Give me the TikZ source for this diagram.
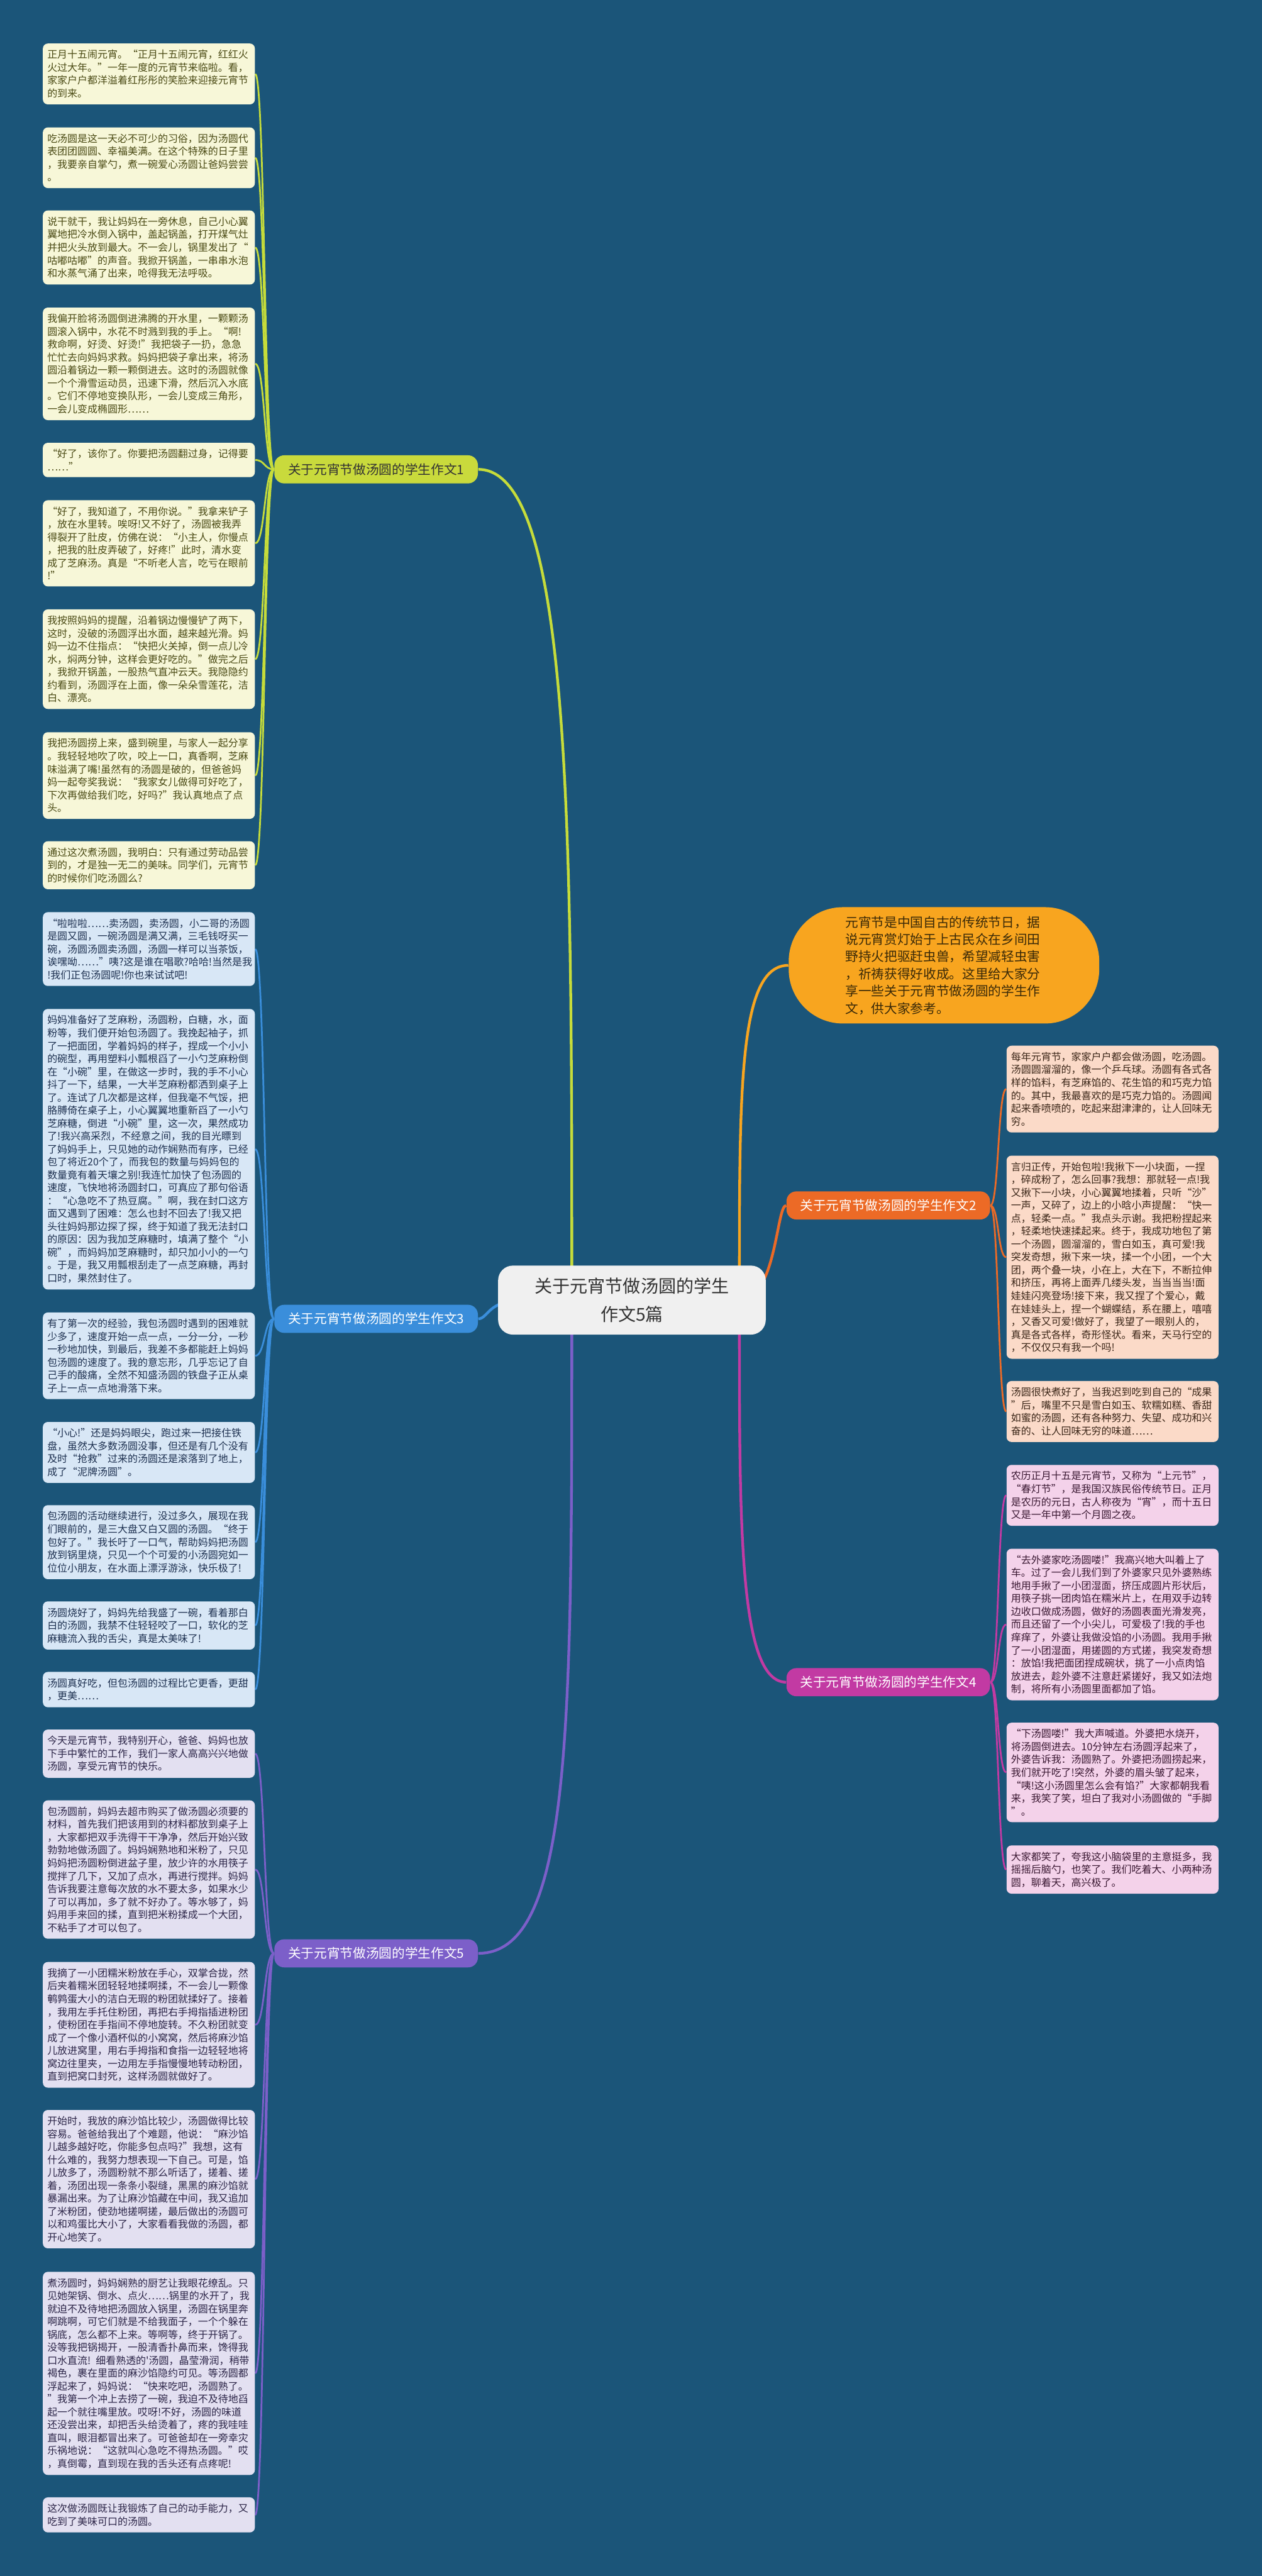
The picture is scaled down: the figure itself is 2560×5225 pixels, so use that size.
\documentclass[tikz,border=0pt]{standalone}
\usepackage{fontspec}
\newfontfamily\cjk{Noto Sans CJK SC}
\usetikzlibrary{calc}
\definecolor{bgc}{HTML}{1B5579}
\definecolor{yfill}{HTML}{F7F7D8}
\definecolor{ytext}{HTML}{4A4A14}
\definecolor{yline}{HTML}{C6DC3A}
\definecolor{ylab}{HTML}{C9DA3C}
\definecolor{bfill}{HTML}{D8E7F6}
\definecolor{btext}{HTML}{1D3050}
\definecolor{bline}{HTML}{3A8EDB}
\definecolor{pfill}{HTML}{E3E0F1}
\definecolor{ptext}{HTML}{2C2548}
\definecolor{pline}{HTML}{7C5FC9}
\definecolor{ofill}{HTML}{FBDAC8}
\definecolor{otext}{HTML}{3B2618}
\definecolor{oline}{HTML}{EC6A26}
\definecolor{mfill}{HTML}{F4D2EA}
\definecolor{mtext}{HTML}{3A1832}
\definecolor{mline}{HTML}{C23AA3}
\definecolor{ifill}{HTML}{F8A51F}
\definecolor{itext}{HTML}{3B2A08}
\definecolor{rfill}{HTML}{F0F0F0}
\pgfdeclarelayer{back}\pgfdeclarelayer{edges}\pgfsetlayers{back,edges,main}
\tikzset{
 leafbase/.style={rounded corners=1mm, text width=41.2mm, inner xsep=0.9mm, inner ysep=1.3mm, align=left, font=\cjk\fontsize{5.8pt}{7.45pt}\selectfont},
 leafY/.style={leafbase, fill=yfill, text=ytext},
 leafB/.style={leafbase, fill=bfill, text=btext},
 leafP/.style={leafbase, fill=pfill, text=ptext},
 leafO/.style={leafbase, fill=ofill, text=otext},
 leafM/.style={leafbase, fill=mfill, text=mtext},
 lab/.style={rounded corners=2mm, minimum width=41.3mm, minimum height=5.7mm, inner sep=0.5mm, font=\cjk\fontsize{7.5pt}{9pt}\selectfont},
 rootst/.style={fill=rfill, text=black!80, rounded corners=3mm, minimum width=54.3mm, minimum height=14mm, align=center, font=\cjk\fontsize{10.2pt}{16.2pt}\selectfont},
 introst/.style={fill=ifill, text=itext, rounded corners=11mm, text width=40mm, inner xsep=11.5mm, inner ysep=1.8mm, align=left, font=\cjk\fontsize{7.5pt}{9.95pt}\selectfont},
 thinline/.style={line width=0.35mm},
 thickline/.style={line width=0.55mm}
}
\newcommand\myconL[3]{\draw[thinline,#1] (#2.west) .. controls ($(#2.west)+(-20,0)$) and ($(#3.east)+(20,0)$) .. (#3.east);}
\newcommand\myconR[3]{\draw[thinline,#1] (#2.east) .. controls ($(#2.east)+(17,0)$) and ($(#3.west)+(-17,0)$) .. (#3.west);}
\begin{document}
\begin{tikzpicture}[x=0.1mm,y=-0.1mm]
\begin{pgfonlayer}{back}
\fill[bgc] (0,0) rectangle (2560,5225);
\end{pgfonlayer}
\useasboundingbox (0,0) rectangle (2560,5225);

% root, intro, labels
\node[rootst] (root) at (1282,2637) {关于元宵节做汤圆的学生\\作文5篇};
\node[introst] (intro) at (1915,1958) {元宵节是中国自古的传统节日，据\\说元宵赏灯始于上古民众在乡间田\\野持火把驱赶虫兽，希望减轻虫害\\，祈祷获得好收成。这里给大家分\\享一些关于元宵节做汤圆的学生作\\文，供大家参考。};
\node[lab, fill=ylab, text=black!80] (B1) at (763,952) {关于元宵节做汤圆的学生作文1};
\node[lab, fill=bline, text=white] (B3) at (763,2675) {关于元宵节做汤圆的学生作文3};
\node[lab, fill=pline, text=white] (B5) at (763,3962) {关于元宵节做汤圆的学生作文5};
\node[lab, fill=oline, text=white] (B2) at (1802,2445) {关于元宵节做汤圆的学生作文2};
\node[lab, fill=mline, text=white] (B4) at (1802,3412) {关于元宵节做汤圆的学生作文4};

% branch 1
\node[leafY] (a1) at (302,150) {正月十五闹元宵。“正月十五闹元宵，红红火\\火过大年。”一年一度的元宵节来临啦。看，\\家家户户都洋溢着红彤彤的笑脸来迎接元宵节\\的到来。};
\node[leafY] (a2) at (302,320) {吃汤圆是这一天必不可少的习俗，因为汤圆代\\表团团圆圆、幸福美满。在这个特殊的日子里\\，我要亲自掌勺，煮一碗爱心汤圆让爸妈尝尝\\。};
\node[leafY] (a3) at (302,502) {说干就干，我让妈妈在一旁休息，自己小心翼\\翼地把冷水倒入锅中，盖起锅盖，打开煤气灶\\并把火头放到最大。不一会儿，锅里发出了“\\咕嘟咕嘟”的声音。我掀开锅盖，一串串水泡\\和水蒸气涌了出来，呛得我无法呼吸。};
\node[leafY] (a4) at (302,738) {我偏开脸将汤圆倒进沸腾的开水里，一颗颗汤\\圆滚入锅中，水花不时溅到我的手上。“啊!\\救命啊，好烫、好烫!”我把袋子一扔，急急\\忙忙去向妈妈求救。妈妈把袋子拿出来，将汤\\圆沿着锅边一颗一颗倒进去。这时的汤圆就像\\一个个滑雪运动员，迅速下滑，然后沉入水底\\。它们不停地变换队形，一会儿变成三角形，\\一会儿变成椭圆形……};
\node[leafY] (a5) at (302,933) {“好了，该你了。你要把汤圆翻过身，记得要\\……”};
\node[leafY] (a6) at (302,1102) {“好了，我知道了，不用你说。”我拿来铲子\\，放在水里转。唉呀!又不好了，汤圆被我弄\\得裂开了肚皮，仿佛在说：“小主人，你慢点\\，把我的肚皮弄破了，好疼!”此时，清水变\\成了芝麻汤。真是“不听老人言，吃亏在眼前\\!”};
\node[leafY] (a7) at (302,1337) {我按照妈妈的提醒，沿着锅边慢慢铲了两下，\\这时，没破的汤圆浮出水面，越来越光滑。妈\\妈一边不住指点：“快把火关掉，倒一点儿冷\\水，焖两分钟，这样会更好吃的。”做完之后\\，我掀开锅盖，一股热气直冲云天。我隐隐约\\约看到，汤圆浮在上面，像一朵朵雪莲花，洁\\白、漂亮。};
\node[leafY] (a8) at (302,1573) {我把汤圆捞上来，盛到碗里，与家人一起分享\\。我轻轻地吹了吹，咬上一口，真香啊，芝麻\\味溢满了嘴!虽然有的汤圆是破的，但爸爸妈\\妈一起夸奖我说：“我家女儿做得可好吃了，\\下次再做给我们吃，好吗?”我认真地点了点\\头。};
\node[leafY] (a9) at (302,1755) {通过这次煮汤圆，我明白：只有通过劳动品尝\\到的，才是独一无二的美味。同学们，元宵节\\的时候你们吃汤圆么?};

% branch 3
\node[leafB] (c1) at (302,1925) {“啦啦啦……卖汤圆，卖汤圆，小二哥的汤圆\\是圆又圆，一碗汤圆是满又满，三毛钱呀买一\\碗，汤圆汤圆卖汤圆，汤圆一样可以当茶饭，\\诶嘿呦……”咦?这是谁在唱歌?哈哈!当然是我\\!我们正包汤圆呢!你也来试试吧!};
\node[leafB] (c2) at (302,2331) {妈妈准备好了芝麻粉，汤圆粉，白糖，水，面\\粉等，我们便开始包汤圆了。我挽起袖子，抓\\了一把面团，学着妈妈的样子，捏成一个小小\\的碗型，再用塑料小瓢根舀了一小勺芝麻粉倒\\在“小碗”里，在做这一步时，我的手不小心\\抖了一下，结果，一大半芝麻粉都洒到桌子上\\了。连试了几次都是这样，但我毫不气馁，把\\胳膊倚在桌子上，小心翼翼地重新舀了一小勺\\芝麻糖，倒进“小碗”里，这一次，果然成功\\了!我兴高采烈，不经意之间，我的目光瞟到\\了妈妈手上，只见她的动作娴熟而有序，已经\\包了将近20个了，而我包的数量与妈妈包的\\数量竟有着天壤之别!我连忙加快了包汤圆的\\速度，飞快地将汤圆封口，可真应了那句俗语\\：“心急吃不了热豆腐。”啊，我在封口这方\\面又遇到了困难：怎么也封不回去了!我又把\\头往妈妈那边探了探，终于知道了我无法封口\\的原因：因为我加芝麻糖时，填满了整个“小\\碗”，而妈妈加芝麻糖时，却只加小小的一勺\\。于是，我又用瓢根刮走了一点芝麻糖，再封\\口时，果然封住了。};
\node[leafB] (c3) at (302,2750) {有了第一次的经验，我包汤圆时遇到的困难就\\少多了，速度开始一点一点，一分一分，一秒\\一秒地加快，到最后，我差不多都能赶上妈妈\\包汤圆的速度了。我的意忘形，几乎忘记了自\\己手的酸痛，全然不知盛汤圆的铁盘子正从桌\\子上一点一点地滑落下来。};
\node[leafB] (c4) at (302,2946) {“小心!”还是妈妈眼尖，跑过来一把接住铁\\盘，虽然大多数汤圆没事，但还是有几个没有\\及时“抢救”过来的汤圆还是滚落到了地上，\\成了“泥牌汤圆”。};
\node[leafB] (c5) at (302,3128) {包汤圆的活动继续进行，没过多久，展现在我\\们眼前的，是三大盘又白又圆的汤圆。“终于\\包好了。”我长吁了一口气，帮助妈妈把汤圆\\放到锅里烧，只见一个个可爱的小汤圆宛如一\\位位小朋友，在水面上漂浮游泳，快乐极了!};
\node[leafB] (c6) at (302,3297) {汤圆烧好了，妈妈先给我盛了一碗，看着那白\\白的汤圆，我禁不住轻轻咬了一口，软化的芝\\麻糖流入我的舌尖，真是太美味了!};
\node[leafB] (c7) at (302,3427) {汤圆真好吃，但包汤圆的过程比它更香，更甜\\，更美……};

% branch 5
\node[leafP] (e1) at (302,3557) {今天是元宵节，我特别开心，爸爸、妈妈也放\\下手中繁忙的工作，我们一家人高高兴兴地做\\汤圆，享受元宵节的快乐。};
\node[leafP] (e2) at (302,3792) {包汤圆前，妈妈去超市购买了做汤圆必须要的\\材料，首先我们把该用到的材料都放到桌子上\\，大家都把双手洗得干干净净，然后开始兴致\\勃勃地做汤圆了。妈妈娴熟地和米粉了，只见\\妈妈把汤圆粉倒进盆子里，放少许的水用筷子\\搅拌了几下，又加了点水，再进行搅拌。妈妈\\告诉我要注意每次放的水不要太多，如果水少\\了可以再加，多了就不好办了。等水够了，妈\\妈用手来回的揉，直到把米粉揉成一个大团，\\不粘手了才可以包了。};
\node[leafP] (e3) at (302,4107) {我摘了一小团糯米粉放在手心，双掌合拢，然\\后夹着糯米团轻轻地揉啊揉，不一会儿一颗像\\鹌鹑蛋大小的洁白无瑕的粉团就揉好了。接着\\，我用左手托住粉团，再把右手拇指插进粉团\\，使粉团在手指间不停地旋转。不久粉团就变\\成了一个像小酒杯似的小窝窝，然后将麻沙馅\\儿放进窝里，用右手拇指和食指一边轻轻地将\\窝边往里夹，一边用左手指慢慢地转动粉团，\\直到把窝口封死，这样汤圆就做好了。};
\node[leafP] (e4) at (302,4420) {开始时，我放的麻沙馅比较少，汤圆做得比较\\容易。爸爸给我出了个难题，他说：“麻沙馅\\儿越多越好吃，你能多包点吗?”我想，这有\\什么难的，我努力想表现一下自己。可是，馅\\儿放多了，汤圆粉就不那么听话了，搓着、搓\\着，汤团出现一条条小裂缝，黑黑的麻沙馅就\\暴漏出来。为了让麻沙馅藏在中间，我又追加\\了米粉团，使劲地搓啊搓，最后做出的汤圆可\\以和鸡蛋比大小了，大家看看我做的汤圆，都\\开心地笑了。};
\node[leafP] (e5) at (302,4814) {煮汤圆时，妈妈娴熟的厨艺让我眼花缭乱。只\\见她架锅、倒水、点火……锅里的水开了，我\\就迫不及待地把汤圆放入锅里，汤圆在锅里奔\\啊跳啊，可它们就是不给我面子，一个个躲在\\锅底，怎么都不上来。等啊等，终于开锅了。\\没等我把锅揭开，一股清香扑鼻而来，馋得我\\口水直流! 细看熟透的'汤圆，晶莹滑润，稍带\\褐色，裹在里面的麻沙馅隐约可见。等汤圆都\\浮起来了，妈妈说：“快来吃吧，汤圆熟了。\\”我第一个冲上去捞了一碗，我迫不及待地舀\\起一个就往嘴里放。哎呀!不好，汤圆的味道\\还没尝出来，却把舌头给烫着了，疼的我哇哇\\直叫，眼泪都冒出来了。可爸爸却在一旁幸灾\\乐祸地说：“这就叫心急吃不得热汤圆。”哎\\，真倒霉，直到现在我的舌头还有点疼呢!};
\node[leafP] (e6) at (302,5101) {这次做汤圆既让我锻炼了自己的动手能力，又\\吃到了美味可口的汤圆。};

% branch 2
\node[leafO] (b1) at (2257,2209) {每年元宵节，家家户户都会做汤圆，吃汤圆。\\汤圆圆溜溜的，像一个乒乓球。汤圆有各式各\\样的馅料，有芝麻馅的、花生馅的和巧克力馅\\的。其中，我最喜欢的是巧克力馅的。汤圆闻\\起来香喷喷的，吃起来甜津津的，让人回味无\\穷。};
\node[leafO] (b2) at (2257,2550) {言归正传，开始包啦!我揪下一小块面，一捏\\，碎成粉了，怎么回事?我想：那就轻一点!我\\又揪下一小块，小心翼翼地揉着，只听“沙”\\一声，又碎了，边上的小晗小声提醒：“快一\\点，轻柔一点。”我点头示谢。我把粉捏起来\\，轻柔地快速揉起来。终于，我成功地包了第\\一个汤圆，圆溜溜的，雪白如玉，真可爱!我\\突发奇想，揪下来一块，揉一个小团，一个大\\团，两个叠一块，小在上，大在下，不断拉伸\\和挤压，再将上面弄几缕头发，当当当当!面\\娃娃闪亮登场!接下来，我又捏了个爱心，戴\\在娃娃头上，捏一个蝴蝶结，系在腰上，嘻嘻\\，又香又可爱!做好了，我望了一眼别人的，\\真是各式各样，奇形怪状。看来，天马行空的\\，不仅仅只有我一个吗!};
\node[leafO] (b3) at (2257,2863) {汤圆很快煮好了，当我迟到吃到自己的“成果\\”后，嘴里不只是雪白如玉、软糯如糕、香甜\\如蜜的汤圆，还有各种努力、失望、成功和兴\\奋的、让人回味无穷的味道……};

% branch 4
\node[leafM] (d1) at (2257,3033) {农历正月十五是元宵节，又称为“上元节”，\\“春灯节”，是我国汉族民俗传统节日。正月\\是农历的元日，古人称夜为“宵”，而十五日\\又是一年中第一个月圆之夜。};
\node[leafM] (d2) at (2257,3295) {“去外婆家吃汤圆喽!”我高兴地大叫着上了\\车。过了一会儿我们到了外婆家只见外婆熟练\\地用手揪了一小团湿面，挤压成圆片形状后，\\用筷子挑一团肉馅在糯米片上，在用双手边转\\边收口做成汤圆，做好的汤圆表面光滑发亮，\\而且还留了一个小尖儿，可爱极了!我的手也\\痒痒了，外婆让我做没馅的小汤圆。我用手揪\\了一小团湿面，用搓圆的方式搓，我突发奇想\\：放馅!我把面团捏成碗状，挑了一小点肉馅\\放进去，趁外婆不注意赶紧搓好，我又如法炮\\制，将所有小汤圆里面都加了馅。};
\node[leafM] (d3) at (2257,3595) {“下汤圆喽!”我大声喊道。外婆把水烧开，\\将汤圆倒进去。10分钟左右汤圆浮起来了，\\外婆告诉我：汤圆熟了。外婆把汤圆捞起来，\\我们就开吃了!突然，外婆的眉头皱了起来，\\“咦!这小汤圆里怎么会有馅?”大家都朝我看\\来，我笑了笑，坦白了我对小汤圆做的“手脚\\”。};
\node[leafM] (d4) at (2257,3792) {大家都笑了，夸我这小脑袋里的主意挺多，我\\摇摇后脑勺，也笑了。我们吃着大、小两种汤\\圆，聊着天，高兴极了。};

\begin{pgfonlayer}{edges}
% root connectors
\draw[thickline, yline] (1160,2600) .. controls (1160,1700) and (1160,952) .. (B1.east);
\draw[thickline, bline] (1060,2637) .. controls (990,2637) and (990,2675) .. (B3.east);
\draw[thickline, pline] (1160,2680) .. controls (1160,3500) and (1160,3962) .. (B5.east);
\draw[thickline, ifill] (1500,2600) .. controls (1500,2200) and (1500,1958) .. (intro.west);
\draw[thickline, oline] (1500,2637) .. controls (1575,2637) and (1575,2445) .. (B2.west);
\draw[thickline, mline] (1500,2680) .. controls (1500,3100) and (1500,3412) .. (B4.west);
% leaf connectors
\foreach \n in {a1,a2,a3,a4,a5,a6,a7,a8,a9} {\myconL{yline}{B1}{\n}}
\foreach \n in {c1,c2,c3,c4,c5,c6,c7} {\myconL{bline}{B3}{\n}}
\foreach \n in {e1,e2,e3,e4,e5,e6} {\myconL{pline}{B5}{\n}}
\foreach \n in {b1,b2,b3} {\myconR{oline}{B2}{\n}}
\foreach \n in {d1,d2,d3,d4} {\myconR{mline}{B4}{\n}}
\end{pgfonlayer}
\end{tikzpicture}
\end{document}
